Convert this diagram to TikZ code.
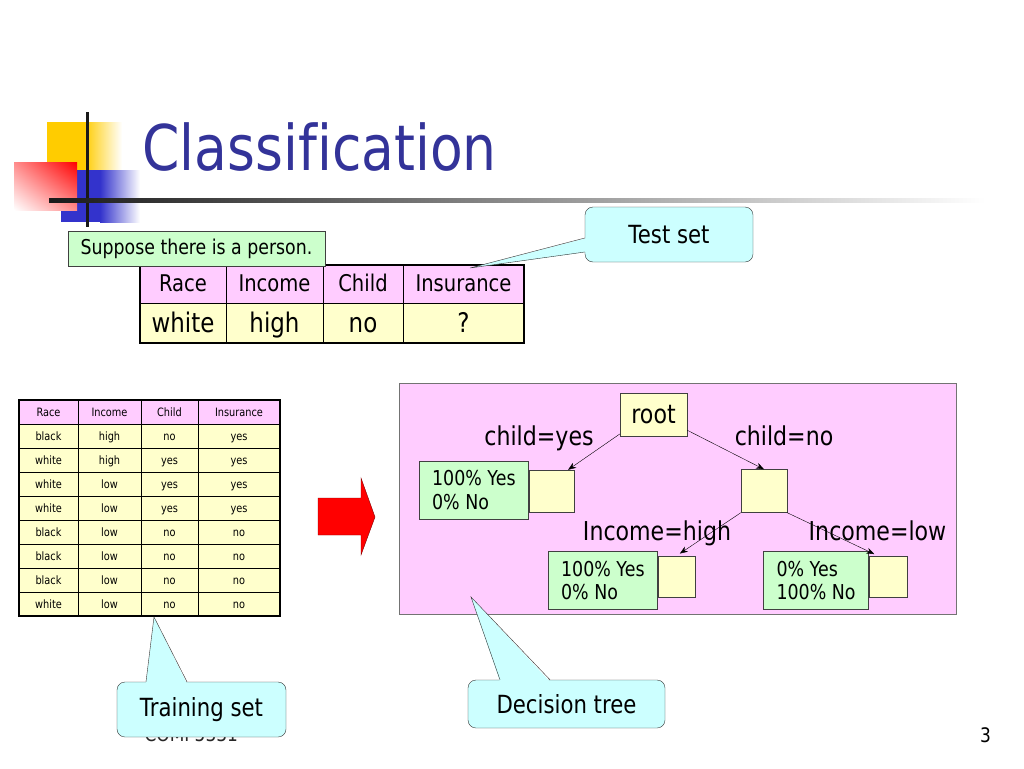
\documentclass[tikz,border=0pt]{standalone}
\usepackage{fontspec}
\setmainfont{DejaVu Sans}[FakeStretch=0.85,Ligatures=NoCommon]
\usetikzlibrary{positioning,calc,arrows.meta,shadings}

\definecolor{titleblue}{RGB}{51,51,153}
\definecolor{hdrpink}{RGB}{255,204,255}
\definecolor{cellyellow}{RGB}{255,255,204}
\definecolor{leafgreen}{RGB}{204,255,204}
\definecolor{callcyan}{RGB}{204,255,255}
\definecolor{logoyellow}{RGB}{255,204,0}
\definecolor{logoblue}{RGB}{51,51,204}
\definecolor{darkred}{RGB}{128,0,0}

\newcommand\fpx[2]{\fontsize{#1}{#2}\selectfont}

\begin{document}
\begin{tikzpicture}[x=1pt,y=-1pt,
  cellT/.style={anchor=base,font=\fpx{11.5}{13}},
  headT/.style={anchor=base,font=\fpx{23}{27}},
  dataT/.style={anchor=base,font=\fpx{27}{31}},
  ybox/.style={draw=black!75,fill=cellyellow,inner sep=0pt},
  leafbox/.style={draw=black!75,fill=leafgreen,align=left,font=\fpx{20.5}{23.5},inner xsep=13pt,minimum height=58pt},
  branchlbl/.style={anchor=base,font=\fpx{26}{30}},
  calloutbox/.style={draw=black!80,fill=callcyan,rounded corners=8pt,font=\fpx{25}{30},inner sep=0pt},
  branchline/.style={-{Stealth[length=8pt,width=6pt]},black}]
\useasboundingbox (0,0) rectangle (1024,768);
\fill[white] (0,0) rectangle (1024,768);
%
% logo
\fill[logoyellow] (47,122) rectangle (84,190);
\shade[left color=logoyellow,right color=white] (84,122) rectangle (122,190);
\fill[logoblue] (61,170) rectangle (100,222);
\shade[left color=logoblue,right color=white] (100,170) rectangle (140,222);
\shade[upper left=red!45,upper right=red,lower right=red!45,lower left=white] (14,162) rectangle (77,210);
\draw[line width=3pt,black!90] (87,112) -- (87,227);
\shade[left color=black!90,middle color=black!50,right color=white] (49,198.5) rectangle (985,202.5);
\node[anchor=base west,font=\fpx{63}{70},text=titleblue] (title) at (139,170) {Classification};
%
% test set
\fill[hdrpink] (140,265) rectangle (524,303);
\fill[cellyellow] (140,303) rectangle (524,343);
\draw (140,303) -- (524,303);
\foreach \x in {226,323,403} \draw (\x,265) -- (\x,343);
\draw[line width=2.5pt] (140,265) rectangle (524,343);
\foreach \t/\x in {Race/183,Income/274.5,Child/363,Insurance/463.5}
  \node[headT] (tst-h-\t) at (\x,291) {\t};
\foreach \t/\x [count=\i] in {white/183,high/274.5,no/363,?/463.5}
  \node[dataT] (tst-d-\i) at (\x,332) {\t};
\node[draw=black!75,fill=leafgreen,font=\fpx{20.4}{24},minimum width=257pt,minimum height=35pt,inner sep=0pt] (person) at (196.5,248.5) {Suppose there is a person.};
\node[calloutbox,minimum width=168pt,minimum height=55pt] (testset) at (669,234.5) {Test set};
\coordinate (testtip) at (470,268);
\fill[callcyan] ($(testset.west)+(2,3.5)$) -- (testtip) -- ($(testset.west)+(2,17.5)$) -- cycle;
\draw[black!80] ($(testset.west)+(0,3.5)$) -- (testtip) -- ($(testset.west)+(0,17.5)$);
%
% training set
\fill[hdrpink] (19,400) rectangle (280,424);
\fill[cellyellow] (19,424) rectangle (280,616);
\foreach \y in {424,448,...,592} \draw (19,\y) -- (280,\y);
\foreach \x in {78,141,198} \draw (\x,400) -- (\x,616);
\draw[line width=2.5pt] (19,400) rectangle (280,616);
\foreach \t/\x in {Race/48.5,Income/109.5,Child/169.5,Insurance/239}
  \node[cellT] (trn-0-\t) at (\x,416) {\t};
\foreach \a/\b/\c/\d [count=\r] in {black/high/no/yes,white/high/yes/yes,white/low/yes/yes,white/low/yes/yes,black/low/no/no,black/low/no/no,black/low/no/no,white/low/no/no}{
  \node[cellT] (trn-\r-a) at (48.5,{416+24*\r}) {\a};
  \node[cellT] (trn-\r-b) at (109.5,{416+24*\r}) {\b};
  \node[cellT] (trn-\r-c) at (169.5,{416+24*\r}) {\c};
  \node[cellT] (trn-\r-d) at (239,{416+24*\r}) {\d};
}
\node[anchor=base west,font=\fpx{20}{24},text=black!85] (footer) at (141,741) {COMP5331};
\node[calloutbox,minimum width=169pt,minimum height=55pt] (trainset) at (201.5,709.5) {Training set};
\coordinate (traintip) at (154,617);
\fill[callcyan] ($(trainset.north)+(-55.5,2)$) -- (traintip) -- ($(trainset.north)+(-14.5,2)$) -- cycle;
\draw[black!80] ($(trainset.north)+(-55.5,0)$) -- (traintip) -- ($(trainset.north)+(-14.5,0)$);
%
% arrow
\filldraw[fill=red,draw=darkred] (318,498) -- (361,498) -- (361,478) -- (375,517) -- (361,555) -- (361,535) -- (318,535) -- cycle;
%
% decision tree
\node[draw=black!55,fill=hdrpink,minimum width=557pt,minimum height=231pt,inner sep=0pt] (treepanel) at (677.5,498.5) {};
\node[ybox,minimum width=67pt,minimum height=43pt,font=\fpx{26}{30}] (root) at (653.5,414.5) {root};
\node[ybox,minimum width=45pt,minimum height=42pt] (yl) at (551.5,491) {};
\node[ybox,minimum width=46pt,minimum height=43pt] (yr) at (764,491) {};
\node[ybox,minimum width=37pt,minimum height=41pt] (yh) at (676.5,576.5) {};
\node[ybox,minimum width=38pt,minimum height=41pt] (yw) at (888,576.5) {};
\node[leafbox,left=0pt of yl,yshift=1pt] (gl) {100\% Yes\\0\% No};
\node[leafbox,left=0pt of yh,yshift=-4pt] (gh) {100\% Yes\\0\% No};
\node[leafbox,left=0pt of yw,yshift=-4pt] (gw) {0\% Yes\\100\% No};
\node[branchlbl] (lbyes) at (539,445) {child=yes};
\node[branchlbl] (lbno) at (784,445) {child=no};
\node[branchlbl] (lbhigh) at (657,540) {Income=high};
\node[branchlbl] (lblow) at (877.5,540) {Income=low};
\draw[branchline] (root.210) -- (yl.52);
\draw[branchline] (root.-25) -- (yr.north);
\draw[branchline,shorten >=4pt] (yr.south west) -- (yh.north);
\draw[branchline,shorten >=4pt] (yr.south east) -- (yw.116);
\node[calloutbox,minimum width=197pt,minimum height=48pt] (treeset) at (566.5,704) {Decision tree};
\coordinate (treetip) at (471,597);
\fill[callcyan] ($(treeset.north)+(-66.5,2)$) -- (treetip) -- ($(treeset.north)+(-16.5,2)$) -- cycle;
\draw[black!80] ($(treeset.north)+(-66.5,0)$) -- (treetip) -- ($(treeset.north)+(-16.5,0)$);
%
\node[anchor=base,font=\fpx{20}{24}] (pagenum) at (985.5,742) {3};
\end{tikzpicture}
\end{document}
